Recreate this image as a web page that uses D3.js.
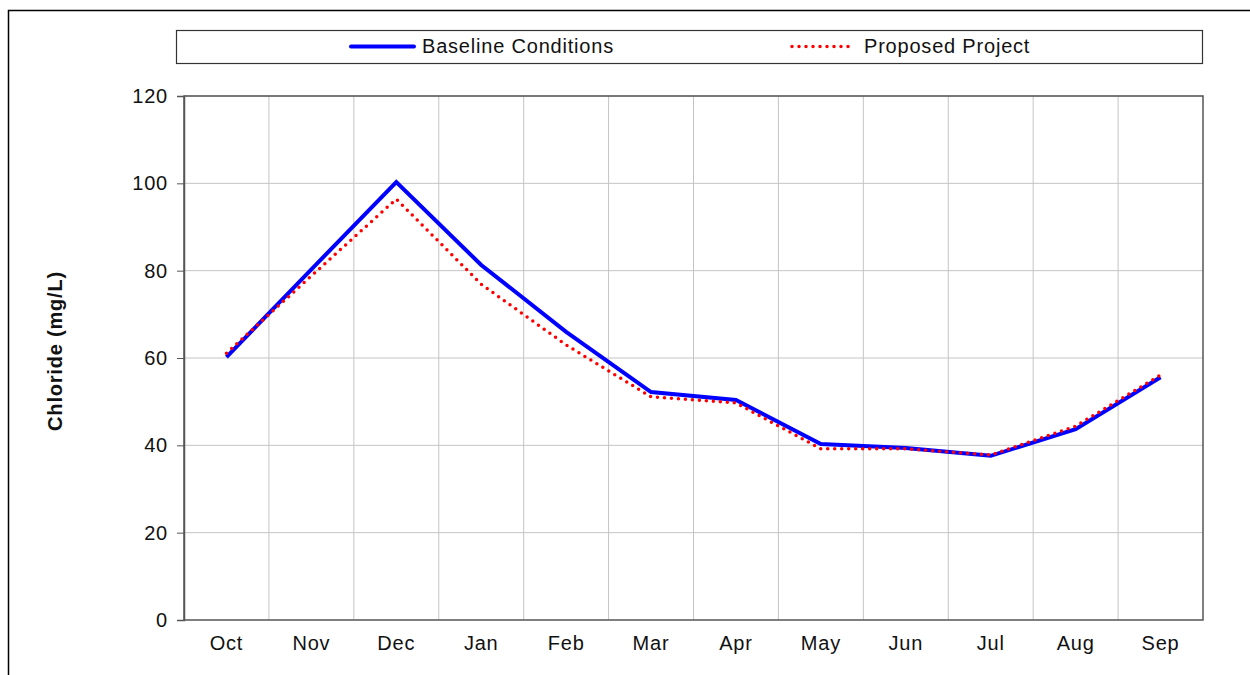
<!DOCTYPE html>
<html>
<head>
<meta charset="utf-8">
<script src="https://cdn.jsdelivr.net/npm/d3@7"></script>
<style>
  body { margin: 0; background: #fff; }
  text { font-family: "Liberation Sans", Arial, sans-serif; fill: #111; }
</style>
</head>
<body>
<div class="graph"></div>
<script>
// chloride chart, monthly values
var months = ["Oct", "Nov", "Dec", "Jan", "Feb", "Mar", "Apr", "May", "Jun", "Jul", "Aug", "Sep"];
var baseline = [60.2, 80.3, 100.3, 81.3, 66.0, 52.2, 50.4, 40.3, 39.4, 37.6, 43.7, 55.6];
var proposed = [61.1, 78.8, 96.4, 76.9, 63.0, 51.1, 49.7, 39.2, 39.2, 37.8, 44.4, 56.1];
var yTicks = [0, 20, 40, 60, 80, 100, 120];

var width = 1250, height = 675;
var margin = { top: 96, bottom: 55, left: 184, right: 47 };

var svg = d3.select('.graph').append('svg')
    .attr('width', width)
    .attr('height', height);

// outer frame
svg.append('path')
    .attr('d', 'M8.5,' + height + 'V10.5H' + width)
    .attr('fill', 'none')
    .attr('stroke', '#000')
    .attr('stroke-width', 1.5);

var xScale = d3.scaleBand()
    .domain(months)
    .range([margin.left, width - margin.right]);

var yScale = d3.scaleLinear()
    .domain([0, 120])
    .range([height - margin.bottom, margin.top]);

// grid
svg.append('g')
    .selectAll('line')
    .data(yTicks.slice(1))
    .enter()
    .append('line')
    .attr('x1', margin.left).attr('x2', width - margin.right)
    .attr('y1', function(d) { return yScale(d); })
    .attr('y2', function(d) { return yScale(d); })
    .attr('stroke', '#c4c4c4');

svg.append('g')
    .selectAll('line')
    .data(months.slice(1))
    .enter()
    .append('line')
    .attr('x1', function(d) { return xScale(d); })
    .attr('x2', function(d) { return xScale(d); })
    .attr('y1', margin.top).attr('y2', height - margin.bottom)
    .attr('stroke', '#c4c4c4');

// plot border
svg.append('rect')
    .attr('x', margin.left).attr('y', margin.top)
    .attr('width', width - margin.left - margin.right)
    .attr('height', height - margin.top - margin.bottom)
    .attr('fill', 'none')
    .attr('stroke', '#555')
    .attr('stroke-width', 1.5);

// y axis
var yAxis = svg.append('g')
    .attr('transform', 'translate(' + margin.left + ',0)')
    .call(d3.axisLeft(yScale).tickValues(yTicks).tickSize(7).tickPadding(9));
yAxis.select('.domain').attr('stroke', '#555').attr('stroke-width', 1.5);
yAxis.selectAll('.tick line').attr('stroke', '#555');
yAxis.selectAll('text')
    .attr('font-size', '20px')
    .attr('letter-spacing', '0.8px')
    .attr('font-family', '"Liberation Sans", Arial, sans-serif')
    .attr('fill', '#111');

// x axis
var xAxis = svg.append('g')
    .attr('transform', 'translate(0,' + (height - margin.bottom) + ')')
    .call(d3.axisBottom(xScale).tickSize(0).tickPadding(16));
xAxis.select('.domain').remove();
xAxis.selectAll('text')
    .attr('font-size', '20px')
    .attr('letter-spacing', '0.8px')
    .attr('font-family', '"Liberation Sans", Arial, sans-serif')
    .attr('fill', '#111');

// y axis title
svg.append('text')
    .attr('transform', 'translate(62,351) rotate(-90)')
    .attr('text-anchor', 'middle')
    .attr('font-size', '20px')
    .attr('letter-spacing', '0.8px')
    .attr('font-weight', 'bold')
    .text('Chloride (mg/L)');

var line = d3.line()
    .x(function(d, i) { return xScale(months[i]) + xScale.bandwidth() / 2; })
    .y(function(d) { return yScale(d); });

svg.append('path')
    .datum(baseline)
    .attr('d', line)
    .attr('fill', 'none')
    .attr('stroke', '#0000ff')
    .attr('stroke-width', 4);

svg.append('path')
    .datum(proposed)
    .attr('d', line)
    .attr('fill', 'none')
    .attr('stroke', '#ff0000')
    .attr('stroke-width', 3.5)
    .attr('stroke-linecap', 'round')
    .attr('stroke-dasharray', '0 7');

// legend
var legend = svg.append('g');
legend.append('rect')
    .attr('x', 176.5).attr('y', 30.5)
    .attr('width', 1026).attr('height', 33)
    .attr('fill', '#fff')
    .attr('stroke', '#333')
    .attr('stroke-width', 1.2);

legend.append('line')
    .attr('x1', 351).attr('x2', 414)
    .attr('y1', 46.5).attr('y2', 46.5)
    .attr('stroke', '#0000ff')
    .attr('stroke-width', 4)
    .attr('stroke-linecap', 'round');
legend.append('text')
    .attr('x', 422).attr('y', 53)
    .attr('font-size', '20px')
    .attr('letter-spacing', '0.8px')
    .text('Baseline Conditions');

legend.append('line')
    .attr('x1', 792).attr('x2', 855)
    .attr('y1', 46.5).attr('y2', 46.5)
    .attr('stroke', '#ff0000')
    .attr('stroke-width', 3.5)
    .attr('stroke-linecap', 'round')
    .attr('stroke-dasharray', '0 7');
legend.append('text')
    .attr('x', 864).attr('y', 53)
    .attr('font-size', '20px')
    .attr('letter-spacing', '0.8px')
    .text('Proposed Project');
</script>
</body>
</html>
